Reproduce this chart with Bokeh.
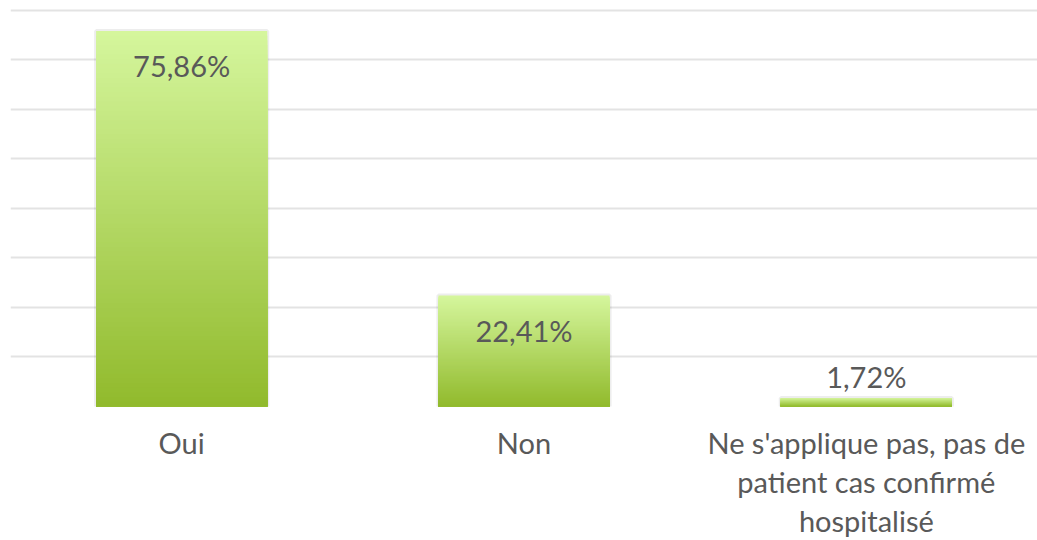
from bokeh.plotting import figure
from bokeh.models import ColumnDataSource, LabelSet, SingleIntervalTicker, Range1d
from bokeh.core.properties import value
from bokeh.embed import file_html
from bokeh.resources import INLINE

categories = ["Oui", "Non", "Ne s'applique pas, pas de\npatient cas confirmé\nhospitalisé"]
values = [75.86, 22.41, 1.72]
value_labels = ["75,86%", "22,41%", "1,72%"]

TOP_RGB = (213, 246, 157)
BOT_RGB = (145, 186, 44)
N_SEG = 80
FONT = "Lato"
FSIZE = "29px"
TXT = "#595959"

p = figure(x_range=categories, y_range=Range1d(0, 80.4), width=1037, height=540,
           output_backend="svg", toolbar_location=None,
           min_border_left=10, min_border_right=0, min_border_top=8, min_border_bottom=0)
p.outline_line_color = None
p.background_fill_color = "white"

# subtle shadow/outline behind bars
p.vbar(x=categories, top=values, width=0.5, fill_color=None,
       line_color="#000000", line_alpha=0.07, line_width=4)

# gradient bars: nested slices from 0 up to each level, tallest first
xs, tops, cols = [], [], []
for c, v in zip(categories, values):
    for i in range(N_SEG, 0, -1):
        t = v * i / N_SEG
        f = (i - 0.5) / N_SEG
        rgb = tuple(int(round(BOT_RGB[k] + (TOP_RGB[k] - BOT_RGB[k]) * f)) for k in range(3))
        xs.append(c); tops.append(t)
        cols.append("#%02x%02x%02x" % rgb)
seg = ColumnDataSource(dict(x=xs, top=tops, color=cols))
p.vbar(x="x", bottom=0, top="top", width=0.5, source=seg,
       fill_color="color", line_color=None)

# data labels: inside end when the bar is tall enough, otherwise above
offs = [-35 if v > 5 else 21 for v in values]
lab_src = ColumnDataSource(dict(x=categories, y=values, text=value_labels, off=offs))
p.add_layout(LabelSet(x="x", y="y", text="text", y_offset="off", source=lab_src,
                      text_align="center", text_baseline="middle",
                      text_font=value(FONT), text_font_size=FSIZE, text_color=TXT))

p.yaxis.visible = False
p.yaxis.ticker = SingleIntervalTicker(interval=10)
p.ygrid.ticker = SingleIntervalTicker(interval=10)
p.ygrid.grid_line_color = "#e3e3e3"
p.ygrid.grid_line_width = 2
p.xgrid.grid_line_color = None

ax = p.xaxis[0]
ax.axis_line_color = None
ax.major_tick_line_color = None
ax.minor_tick_line_color = None
ax.major_tick_in = 0
ax.major_tick_out = 0
ax.major_label_standoff = 18
ax.major_label_text_font = FONT
ax.major_label_text_font_size = FSIZE
ax.major_label_text_color = TXT
ax.major_label_text_line_height = 1.12

open("out.html", "w").write(file_html(p, INLINE))
